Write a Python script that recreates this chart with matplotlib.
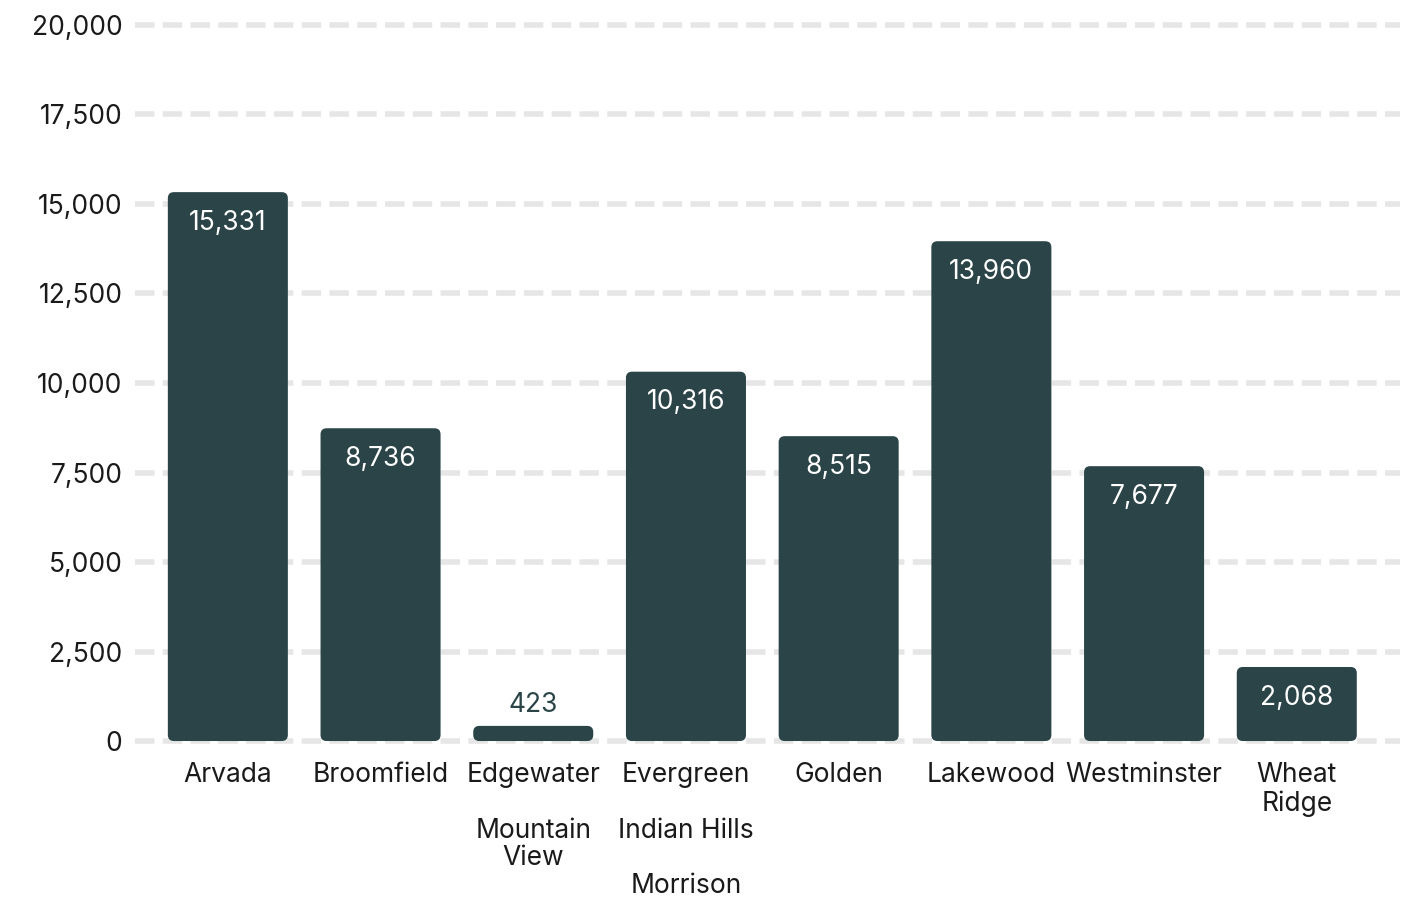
import matplotlib
matplotlib.use("Agg")
import matplotlib.pyplot as plt
from matplotlib.patches import FancyBboxPatch
from matplotlib.ticker import FuncFormatter

# Städte / Gemeinden und Werte
cities = ["Arvada", "Broomfield", "Edgewater\n\nMountain\nView",
          "Evergreen\n\nIndian Hills\n\nMorrison", "Golden", "Lakewood",
          "Westminster", "Wheat\nRidge"]
values = [15331, 8736, 423, 10316, 8515, 13960, 7677, 2068]
yticks = [0, 2500, 5000, 7500, 10000, 12500, 15000, 17500, 20000]

bar_color = "#2a4447"
font = "Inter"
fs = 19
plt.rcParams["font.family"] = [font, "DejaVu Sans"]

fig = plt.figure(figsize=(14.24, 8.99), dpi=100)
ax = fig.add_axes([135 / 1424, 1 - 746.4 / 899, (1400 - 135) / 1424, (746.4 - 19.6) / 899])

width = 0.786
x = list(range(len(cities)))
bars = ax.bar(x, values, width=width, color="none")

# Balken mit abgerundeten Ecken
for rect, val in zip(bars, values):
    box = FancyBboxPatch((rect.get_x(), 0), rect.get_width(), val,
                         boxstyle="round,pad=0,rounding_size=0.04",
                         mutation_aspect=4265, facecolor=bar_color,
                         edgecolor="none", zorder=3)
    ax.add_patch(box)
    if val > 1500:
        ax.annotate(f"{val:,}", (rect.get_x() + rect.get_width() / 2, val),
                    xytext=(0, -22), textcoords="offset points",
                    ha="center", va="center", color="white", fontsize=fs, zorder=4)
    else:
        ax.annotate(f"{val:,}", (rect.get_x() + rect.get_width() / 2, val),
                    xytext=(0, 15), textcoords="offset points",
                    ha="center", va="center", color=bar_color, fontsize=fs, zorder=4)

ax.set_xlim(-0.608, 7.676)
ax.set_ylim(-150, 20150)
ax.set_yticks(yticks)
ax.yaxis.set_major_formatter(FuncFormatter(lambda v, p: f"{int(v):,}"))
ax.set_xticks(x)
ax.set_xticklabels(cities, fontsize=fs, linespacing=1.085, va="top")
ax.tick_params(axis="y", length=0, pad=9, labelsize=fs, colors="#1a1a1a")
ax.tick_params(axis="x", length=0, pad=11.5, colors="#1a1a1a")

ax.grid(axis="y", color="#e6e6e6", linestyle=(0, (3.5, 1.5)), linewidth=4, zorder=0)
ax.set_axisbelow(True)
for s in ax.spines.values():
    s.set_visible(False)

fig.savefig("out.png", dpi=100)
